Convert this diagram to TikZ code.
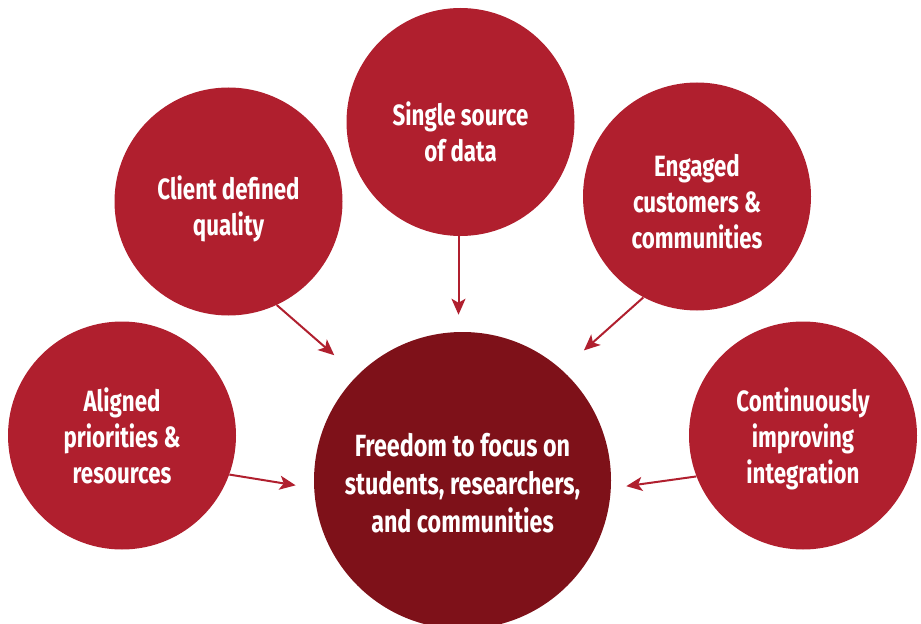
\documentclass[tikz,border=0pt]{standalone}
\usepackage{fontspec}
\setmainfont{Fira Sans}[FakeStretch=0.76]
\usetikzlibrary{arrows.meta}
\definecolor{bubblered}{RGB}{176,31,46}
\definecolor{focusred}{RGB}{126,17,25}
\tikzset{bubble/.style={circle, fill=bubblered, minimum size=171pt, inner sep=0pt},
  txt/.style={text=white, align=center, font=\fontsize{22}{27}\selectfont\bfseries},
  feed/.style={draw=bubblered, line width=1.5pt,
    -{Stealth[length=12pt, width=10.5pt, inset=3pt]}}}
\begin{document}
\begin{tikzpicture}[x=0.75pt, y=-0.75pt]
      \useasboundingbox (0,0) rectangle (921,624);

      \node [bubble, fill=focusred, minimum size=222.75pt] (focus) at (462.5,480.5) {};
      \node [bubble] (data) at (460.5,122) {};
      \node [bubble] (client) at (228.5,201.5) {};
      \node [bubble] (engaged) at (697,196.5) {};
      \node [bubble] (aligned) at (122,435.5) {};
      \node [bubble] (improve) at (803,435.5) {};

      \node [txt, font=\fontsize{23}{28.5}\selectfont\bfseries] (focus-t) at ([yshift=-2pt]focus.center) {Freedom to focus on\\students, researchers,\\and communities};
      \node [txt] (data-t) at ([yshift=-7.5pt]data.center) {Single source\\of data};
      \node [txt] (client-t) at ([yshift=-5.5pt]client.center) {Client defined\\quality};
      \node [txt] (engaged-t) at ([yshift=-4pt]engaged.center) {Engaged\\customers \&\\communities};
      \node [txt] (aligned-t) at (aligned) {Aligned\\priorities \&\\resources};
      \node [txt] (improve-t) at ([yshift=-2.5pt]improve.center) {Continuously\\improving\\integration};

      \draw [feed, shorten >=12.75pt] (data.-91) -- (data.-91 |- focus.north);
      \draw [feed, shorten >=22.9pt] (client.-65) -- (focus.135.5);
      \draw [feed, shorten >=22pt] (engaged.-118.5) -- (focus.48.5);
      \draw [feed, shorten >=13.9pt] (aligned.-20) -- (focus.183);
      \draw [feed, shorten >=11.5pt] (improve.-159) -- (focus.-3.3);
\end{tikzpicture}
\end{document}
